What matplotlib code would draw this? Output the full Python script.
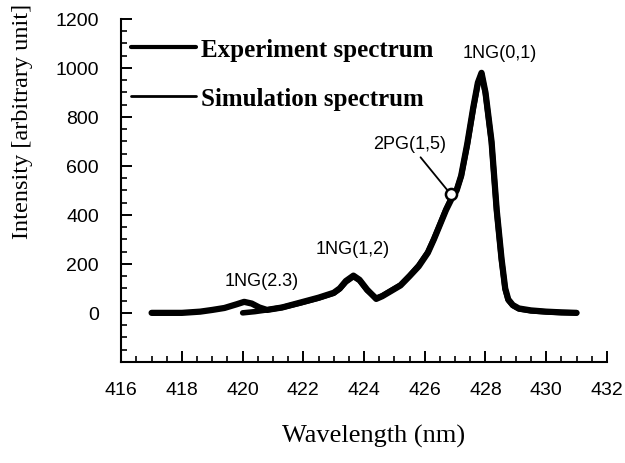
import matplotlib
matplotlib.use("Agg")
import matplotlib.pyplot as plt
from matplotlib.ticker import MultipleLocator

# Experiment spectrum (wavelength nm, intensity a.u.)
exp_wl = [417.0, 418.0, 418.6, 419.0, 419.4, 419.8, 420.05, 420.3, 420.55, 420.8,
          421.3, 421.9, 422.5, 423.0, 423.2, 423.4, 423.65, 423.85, 424.1, 424.4,
          424.6, 424.9, 425.2, 425.5, 425.8, 426.1, 426.3, 426.5, 426.7, 426.9,
          427.05, 427.2, 427.4, 427.6, 427.75, 427.87, 428.0, 428.2, 428.37, 428.53,
          428.65, 428.75, 428.9, 429.1, 429.5, 430.0, 430.5, 431.0]
exp_int = [0, 0, 5, 12, 20, 35, 45, 38, 22, 12,
           22, 42, 62, 82, 100, 130, 152, 135, 95, 57,
           68, 90, 112, 150, 190, 245, 300, 360, 420, 470,
           500, 560, 690, 840, 940, 980, 900, 700, 420, 220,
           100, 55, 32, 18, 10, 5, 2, 0]

# Simulation spectrum
sim_wl = [420.0, 420.4, 420.8, 421.3, 421.9, 422.5, 423.0, 423.2, 423.4, 423.65,
          423.85, 424.1, 424.4, 424.6, 424.9, 425.2, 425.5, 425.8, 426.1, 426.3,
          426.5, 426.7, 426.9, 427.05, 427.2, 427.4, 427.6, 427.75, 427.87, 428.0,
          428.2, 428.37, 428.53, 428.65, 428.75, 428.9, 429.1, 429.5, 430.0, 430.5,
          431.0]
sim_int = [0, 5, 12, 22, 40, 60, 80, 98, 126, 148,
           132, 92, 60, 70, 92, 114, 152, 194, 248, 302,
           362, 423, 475, 502, 558, 685, 835, 935, 975, 895,
           695, 415, 215, 96, 52, 30, 16, 8, 4, 1,
           0]

# Annotations: (label, x, y)
peak_labels = ["1NG(0,1)", "1NG(1,2)", "1NG(2.3)"]
peak_x = [428.48, 423.64, 420.64]
peak_y = [1065, 261, 131]

pg_label = "2PG(1,5)"
pg_point = (426.85, 485)
pg_text = (425.5, 690)

xticks = [416, 418, 420, 422, 424, 426, 428, 430, 432]
yticks = [0, 200, 400, 600, 800, 1000, 1200]

fig = plt.figure(figsize=(6.25, 4.64), dpi=100)
ax = fig.add_axes([0.194, 0.218, 0.777, 0.739])

l1, = ax.plot(exp_wl, exp_int, color='black', lw=4.5, solid_capstyle='round',
              solid_joinstyle='round', label='Experiment spectrum')
l2, = ax.plot(sim_wl, sim_int, color='black', lw=4.0, solid_capstyle='round',
              solid_joinstyle='round', label='Simulation spectrum')

ax.plot([pg_point[0]], [pg_point[1]], 'o', ms=8, mfc='white', mec='black', mew=1.8)

ax.set_xlim(416, 432)
ax.set_ylim(-200, 1200)
ax.set_xticks(xticks)
ax.set_yticks(yticks)
ax.xaxis.set_minor_locator(MultipleLocator(0.5))
ax.yaxis.set_minor_locator(MultipleLocator(50))

for s in ['top', 'right']:
    ax.spines[s].set_visible(False)
for s in ['left', 'bottom']:
    ax.spines[s].set_linewidth(1.5)

ax.tick_params(which='major', direction='in', length=8, width=1.4,
               labelsize=14, pad=14)
ax.tick_params(which='minor', direction='in', length=4.5, width=1.2)
ax.tick_params(axis='y', pad=16)
for lab in ax.get_xticklabels() + ax.get_yticklabels():
    lab.set_fontfamily('Liberation Sans')

ax.set_xlabel('Wavelength (nm)', fontfamily='Liberation Serif', fontsize=19)
ax.set_ylabel('Intensity [arbitrary unit]', fontfamily='Liberation Serif', fontsize=17.5)
ax.xaxis.set_label_coords(0.52, -0.18)
ax.yaxis.set_label_coords(-0.182, 0.705)

for t, x, y in zip(peak_labels, peak_x, peak_y):
    ax.text(x, y, t, ha='center', va='center', fontsize=13, fontfamily='Liberation Sans')

ax.annotate(pg_label, xy=pg_point, xytext=pg_text, ha='center', va='center',
            fontsize=13, fontfamily='Liberation Sans',
            arrowprops=dict(arrowstyle='-', lw=1.3, color='black', shrinkA=2, shrinkB=4))

leg = ax.legend(handles=[l1, l2], loc='upper left', bbox_to_anchor=(0.02, 0.945),
                frameon=False, handlelength=2.6, handletextpad=0.2, labelspacing=1.05,
                borderpad=0, borderaxespad=0,
                prop={'family': 'Liberation Serif', 'weight': 'bold', 'size': 18})
for ln, w in zip(leg.get_lines(), [3.0, 2.0]):
    ln.set_linewidth(w)

fig.savefig('out.png', dpi=100)
